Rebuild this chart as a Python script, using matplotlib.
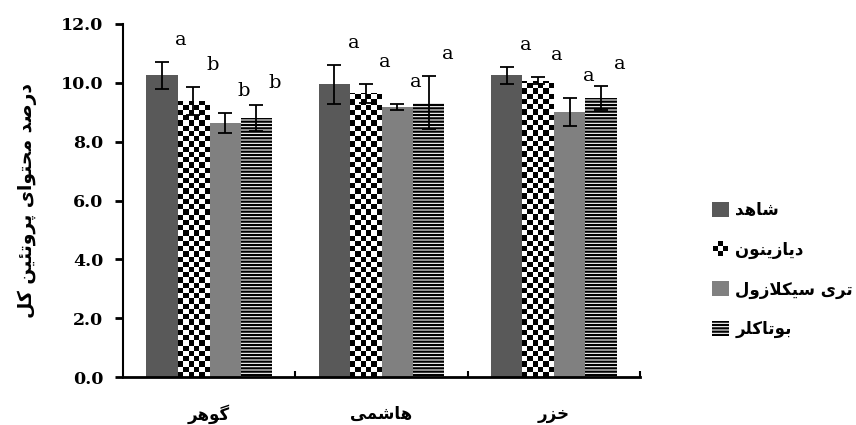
import numpy as np
import matplotlib
matplotlib.use("Agg")
import matplotlib.pyplot as plt
from matplotlib.patches import Patch, Rectangle
from matplotlib.legend_handler import HandlerBase

categories = ['گوهر', 'هاشمی', 'خزر']
series_names = ['شاهد', 'دیازینون', 'تری سیکلازول', 'بوتاکلر']
y_label = 'درصد محتوای پروتئین کل'

shahed = [10.25, 9.95, 10.25]
diazinon = [9.38, 9.65, 10.07]
tricyclazole = [8.63, 9.19, 9.00]
butachlor = [8.80, 9.33, 9.48]

shahed_err = [0.45, 0.67, 0.30]
diazinon_err = [0.47, 0.32, 0.12]
tricyclazole_err = [0.35, 0.10, 0.48]
butachlor_err = [0.43, 0.90, 0.42]

shahed_letters = ['a', 'a', 'a']
diazinon_letters = ['b', 'a', 'a']
tricyclazole_letters = ['b', 'a', 'a']
butachlor_letters = ['b', 'a', 'a']

y_ticks = [0, 2, 4, 6, 8, 10, 12]

# presentation forms: isolated, final, initial, medial
FORMS = {
    'ا': (0xFE8D, 0xFE8E, None, None),
    'ب': (0xFE8F, 0xFE90, 0xFE91, 0xFE92),
    'ت': (0xFE95, 0xFE96, 0xFE97, 0xFE98),
    'ح': (0xFEA1, 0xFEA2, 0xFEA3, 0xFEA4),
    'خ': (0xFEA5, 0xFEA6, 0xFEA7, 0xFEA8),
    'د': (0xFEA9, 0xFEAA, None, None),
    'ر': (0xFEAD, 0xFEAE, None, None),
    'ز': (0xFEAF, 0xFEB0, None, None),
    'س': (0xFEB1, 0xFEB2, 0xFEB3, 0xFEB4),
    'ش': (0xFEB5, 0xFEB6, 0xFEB7, 0xFEB8),
    'ص': (0xFEB9, 0xFEBA, 0xFEBB, 0xFEBC),
    'ل': (0xFEDD, 0xFEDE, 0xFEDF, 0xFEE0),
    'م': (0xFEE1, 0xFEE2, 0xFEE3, 0xFEE4),
    'ن': (0xFEE5, 0xFEE6, 0xFEE7, 0xFEE8),
    'ه': (0xFEE9, 0xFEEA, 0xFEEB, 0xFEEC),
    'و': (0xFEED, 0xFEEE, None, None),
    'ئ': (0xFE89, 0xFE8A, 0xFE8B, 0xFE8C),
    'پ': (0xFB56, 0xFB57, 0xFB58, 0xFB59),
    'ک': (0xFB8E, 0xFB8F, 0xFB90, 0xFB91),
    'گ': (0xFB92, 0xFB93, 0xFB94, 0xFB95),
    'ی': (0xFBFC, 0xFBFD, 0xFBFE, 0xFBFF),
}
LAM_ALEF = (0xFEFB, 0xFEFC)


def shape_fa(text):
    # no text shaping in matplotlib, so join letters by hand and reverse
    units = []
    i = 0
    while i < len(text):
        if text[i] == 'ل' and i + 1 < len(text) and text[i + 1] == 'ا':
            units.append('لا')
            i += 2
        else:
            units.append(text[i])
            i += 1

    def dual(u):
        return u in FORMS and FORMS[u][2] is not None

    out = []
    for k, u in enumerate(units):
        if u not in FORMS and u != 'لا':
            out.append(u)
            continue
        prev = k > 0 and dual(units[k - 1])
        if u == 'لا':
            out.append(chr(LAM_ALEF[1] if prev else LAM_ALEF[0]))
            continue
        nxt = dual(u) and k + 1 < len(units) and (units[k + 1] in FORMS or units[k + 1] == 'لا')
        isol, fin, ini, med = FORMS[u]
        if prev and nxt:
            c = med
        elif prev:
            c = fin
        elif nxt:
            c = ini
        else:
            c = isol
        out.append(chr(c))
    return ''.join(reversed(out))


class CheckerHandler(HandlerBase):
    def create_artists(self, legend, orig_handle, xdescent, ydescent,
                       width, height, fontsize, trans):
        s = height / 3
        x0 = -xdescent + (width - height) / 2
        arts = []
        for i in range(3):
            for j in range(3):
                if (i + j) % 2:
                    arts.append(Rectangle((x0 + i * s, -ydescent + j * s), s, s,
                                          facecolor='black', linewidth=0, transform=trans))
        return arts


plt.rcParams['hatch.color'] = 'black'
plt.rcParams['hatch.linewidth'] = 1.6

fa_font = dict(family=['DejaVu Sans'], weight='bold', size=12)
num_font = dict(family=['DejaVu Serif'], weight='bold', size=12.5)

fig = plt.figure(figsize=(8.56, 4.25), dpi=100)
ax = fig.add_axes([123 / 856, 1 - 377 / 425, 517 / 856, 353 / 425])

x = np.arange(len(categories))
width = 0.182
offsets = (np.arange(4) - 1.5) * width

means = [shahed, diazinon, tricyclazole, butachlor]
errs = [shahed_err, diazinon_err, tricyclazole_err, butachlor_err]
letters = [shahed_letters, diazinon_letters, tricyclazole_letters, butachlor_letters]

bars1 = ax.bar(x + offsets[0], shahed, width, color='#595959', zorder=2)
bars2 = ax.bar(x + offsets[1], diazinon, width, color='white', zorder=2)
bars3 = ax.bar(x + offsets[2], tricyclazole, width, color='#808080', zorder=2)
bars4 = ax.bar(x + offsets[3], butachlor, width, color='white', edgecolor='black',
               linewidth=0, hatch='-----', zorder=2)

# checkerboard fill for the second series
for b in bars2:
    x0 = b.get_x()
    h = b.get_height()
    rows = int(np.ceil(h / 0.178))
    board = np.indices((rows, 6)).sum(axis=0) % 2
    im = ax.imshow(board, cmap='gray', extent=[x0, x0 + width, 0, rows * 0.178],
                   aspect='auto', interpolation='nearest', origin='lower', zorder=2.1)
    im.set_clip_path(b)

for k in range(4):
    ax.errorbar(x + offsets[k], means[k], yerr=errs[k], fmt='none', ecolor='black',
                elinewidth=1.3, capsize=5, capthick=1.3, zorder=3)
    for i in range(len(categories)):
        ax.text(x[i] + offsets[k] + 0.11, means[k][i] + errs[k][i] + 0.75, letters[k][i],
                ha='center', va='center', family='DejaVu Serif', fontsize=14)

ax.set_xlim(-0.5, 2.5)
ax.set_ylim(0, 12)
ax.set_yticks(y_ticks)
ax.set_yticklabels(['%.1f' % v for v in y_ticks], fontdict=num_font)
ax.tick_params(axis='y', direction='out', length=6, width=2, pad=8)

ax.set_xticks([0.5, 1.5, 2.5])
ax.set_xticklabels([])
ax.tick_params(axis='x', which='major', direction='in', length=4, width=1.5)
ax.set_xticks(x, minor=True)
ax.set_xticklabels([shape_fa(c) for c in categories], minor=True, fontdict=fa_font)
ax.tick_params(axis='x', which='minor', length=0, pad=20)

ax.set_ylabel(shape_fa(y_label), fontdict=dict(fa_font, size=13.5), labelpad=17)

for s in ['top', 'right']:
    ax.spines[s].set_visible(False)
ax.spines['left'].set_linewidth(1.5)
ax.spines['bottom'].set_linewidth(2)

handles = [Patch(facecolor='#595959'), Patch(facecolor='white'),
           Patch(facecolor='#808080'),
           Patch(facecolor='white', edgecolor='black', linewidth=0, hatch='-----')]
fig.legend(handles, [shape_fa(s) for s in series_names], handler_map={handles[1]: CheckerHandler()},
           loc='upper left', bbox_to_anchor=(712 / 856, 1 - 201 / 425), frameon=False,
           prop=dict(family='DejaVu Sans', weight='bold', size=12), handlelength=1.0,
           handleheight=1.0, handletextpad=0.4, labelspacing=1.3, borderpad=0, borderaxespad=0)

fig.savefig('out.png', dpi=100)
